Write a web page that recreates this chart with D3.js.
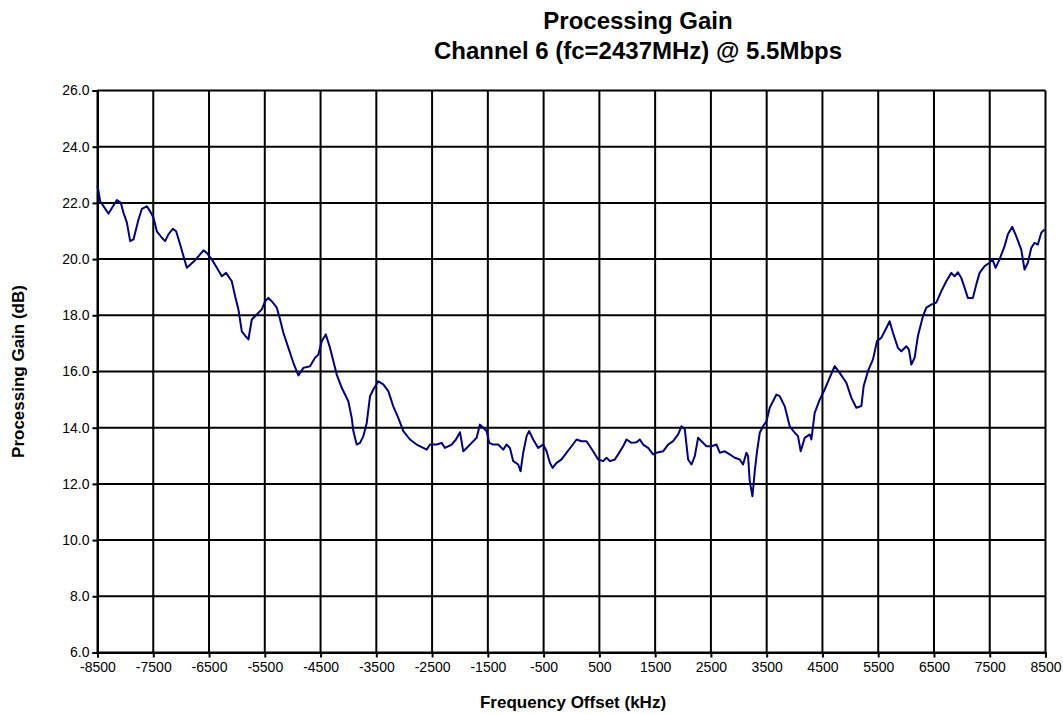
<!DOCTYPE html>
<html><head><meta charset="utf-8">
<script src="https://cdn.jsdelivr.net/npm/d3@7"></script>
<style>
body{margin:0;background:#fff;}
svg{display:block;font-family:"Liberation Sans",Arial,sans-serif;}
</style></head>
<body>
<svg id="c" width="1063" height="714"></svg>
<script>
const titleLines = ["Processing Gain", "Channel 6 (fc=2437MHz) @ 5.5Mbps"];
const xLabel = "Frequency Offset (kHz)";
const yLabel = "Processing Gain (dB)";
const xTicks = [-8500,-7500,-6500,-5500,-4500,-3500,-2500,-1500,-500,500,1500,2500,3500,4500,5500,6500,7500,8500];
const yTicks = [6,8,10,12,14,16,18,20,22,24,26];

const freq = [-8500,-8452,-8303,-8152,-8081,-8034,-7973,-7914,-7855,-7765,-7704,-7615,-7556,-7496,-7436,-7346,-7287,-7228,-7149,-7090,
-7018,-6898,-6749,-6600,-6540,-6450,-6360,-6271,-6194,-6092,-6032,-5973,-5912,-5853,-5794,-5733,-5644,-5554,-5495,-5436,
-5375,-5285,-5226,-5167,-5077,-4988,-4898,-4808,-4688,-4599,-4540,-4479,-4407,-4330,-4271,-4210,-4120,-4002,-3941,-3912,
-3852,-3792,-3733,-3672,-3613,-3554,-3464,-3375,-3285,-3196,-3106,-3016,-2896,-2776,-2658,-2597,-2538,-2418,-2328,-2269,
-2149,-2072,-2000,-1941,-1880,-1791,-1701,-1642,-1583,-1522,-1475,-1404,-1314,-1224,-1164,-1104,-1045,-956,-913,-866,
-805,-759,-687,-597,-508,-447,-388,-339,-268,-178,-88,1,91,180,270,329,388,478,568,628,
688,777,836,926,987,1076,1166,1225,1284,1374,1464,1524,1643,1732,1822,1912,1972,2032,2091,2152,
2211,2270,2331,2420,2510,2600,2659,2748,2838,2928,3017,3076,3137,3166,3196,3245,3286,3327,3376,3435,
3496,3555,3675,3734,3824,3913,4003,4062,4110,4182,4272,4302,4361,4451,4540,4630,4720,4809,4929,5019,
5108,5198,5239,5316,5406,5478,5556,5646,5705,5764,5854,5915,6004,6051,6094,6153,6212,6302,6363,6452,
6542,6632,6721,6811,6870,6929,6990,7049,7108,7198,7259,7318,7408,7497,7546,7605,7676,7766,7825,7904,
7976,8065,8124,8184,8245,8304,8363,8424,8483];
const gain = [22.62,22.06,21.62,22.10,22.00,21.65,21.30,20.64,20.70,21.41,21.79,21.88,21.70,21.47,20.99,20.76,20.64,20.88,21.08,20.99,
20.52,19.69,19.96,20.31,20.22,19.99,19.69,19.39,19.51,19.21,18.68,18.21,17.43,17.28,17.14,17.85,18.03,18.21,18.50,18.62,
18.50,18.27,17.85,17.38,16.84,16.31,15.86,16.13,16.19,16.49,16.60,17.08,17.32,16.84,16.37,15.89,15.42,14.94,14.35,13.88,
13.40,13.46,13.70,14.17,15.12,15.36,15.65,15.54,15.30,14.76,14.35,13.88,13.58,13.40,13.28,13.22,13.40,13.40,13.46,13.28,
13.40,13.58,13.84,13.16,13.28,13.46,13.64,14.11,14.00,13.88,13.46,13.40,13.40,13.22,13.40,13.28,12.81,12.69,12.45,13.11,
13.70,13.88,13.58,13.28,13.40,13.16,12.75,12.57,12.75,12.87,13.11,13.34,13.58,13.52,13.52,13.34,13.16,12.87,12.81,12.93,
12.81,12.87,13.05,13.34,13.58,13.46,13.48,13.58,13.40,13.28,13.05,13.11,13.16,13.40,13.52,13.76,14.05,13.94,12.87,12.69,
12.99,13.64,13.52,13.34,13.34,13.40,13.11,13.16,13.05,12.93,12.87,12.69,13.11,12.99,12.10,11.56,12.45,13.16,13.82,14.05,
14.23,14.71,15.18,15.12,14.76,14.05,13.82,13.70,13.16,13.64,13.76,13.58,14.53,15.00,15.36,15.78,16.19,15.95,15.60,15.06,
14.71,14.77,15.48,16.01,16.43,17.08,17.20,17.55,17.79,17.38,16.84,16.72,16.90,16.78,16.25,16.49,17.26,17.97,18.27,18.38,
18.45,18.86,19.21,19.51,19.39,19.53,19.33,18.98,18.62,18.62,19.10,19.51,19.75,19.87,20.01,19.69,19.99,20.46,20.88,21.15,
20.81,20.34,19.63,19.87,20.40,20.58,20.52,20.94,21.05];

const svg = d3.select("#c");
const L = 97.5, R = 1045.5, T = 90.5, B = 652.5;
const x = d3.scaleLinear().domain([-8500, 8500]).range([L, R]);
const y = d3.scaleLinear().domain([6, 26]).range([B, T]);

// gridlines
const g = svg.append("g");
g.selectAll("line.vx").data(xTicks).join("line")
  .attr("x1", d => x(d)).attr("x2", d => x(d)).attr("y1", T).attr("y2", B)
  .attr("stroke", "#000").attr("stroke-width", 2);
g.selectAll("line.hy").data(yTicks).join("line")
  .attr("x1", L).attr("x2", R).attr("y1", d => y(d)).attr("y2", d => y(d))
  .attr("stroke", "#000").attr("stroke-width", 2);

// axes
const xAxis = d3.axisBottom(x).tickValues(xTicks).tickSize(5).tickPadding(5).tickFormat(d => String(d));
const yAxis = d3.axisLeft(y).tickValues(yTicks).tickSize(5).tickPadding(3).tickFormat(d3.format(".1f"));
const gx = svg.append("g").attr("transform", `translate(0,${B})`).call(xAxis);
const gy = svg.append("g").attr("transform", `translate(${L},0)`).call(yAxis);
[gx, gy].forEach(a => {
  a.select(".domain").attr("stroke", "#000").attr("stroke-width", 2);
  a.selectAll(".tick line").attr("stroke", "#000").attr("stroke-width", 2);
  a.selectAll(".tick text").attr("fill", "#000").style("font-size", "14px")
   .style("font-family", '"Liberation Sans", Arial, sans-serif');
});

// data line
const pts = freq.map((f, i) => [f, gain[i]]);
svg.append("path").datum(pts)
  .attr("d", d3.line().x(d => x(d[0])).y(d => y(d[1])))
  .attr("fill", "none").attr("stroke", "#000080").attr("stroke-width", 2)
  .attr("stroke-linejoin", "round");

// titles
svg.selectAll("text.title").data(titleLines).join("text")
  .attr("x", 638).attr("y", (d, i) => 29 + i * 30)
  .attr("text-anchor", "middle").style("font-weight", "bold").style("font-size", "24px")
  .text(d => d);

svg.append("text").attr("x", 573).attr("y", 708)
  .attr("text-anchor", "middle").style("font-weight", "bold").style("font-size", "17px")
  .text(xLabel);
svg.append("text").attr("transform", `translate(24,${(T + B) / 2}) rotate(-90)`)
  .attr("text-anchor", "middle").style("font-weight", "bold").style("font-size", "17px")
  .text(yLabel);
</script>
</body></html>
